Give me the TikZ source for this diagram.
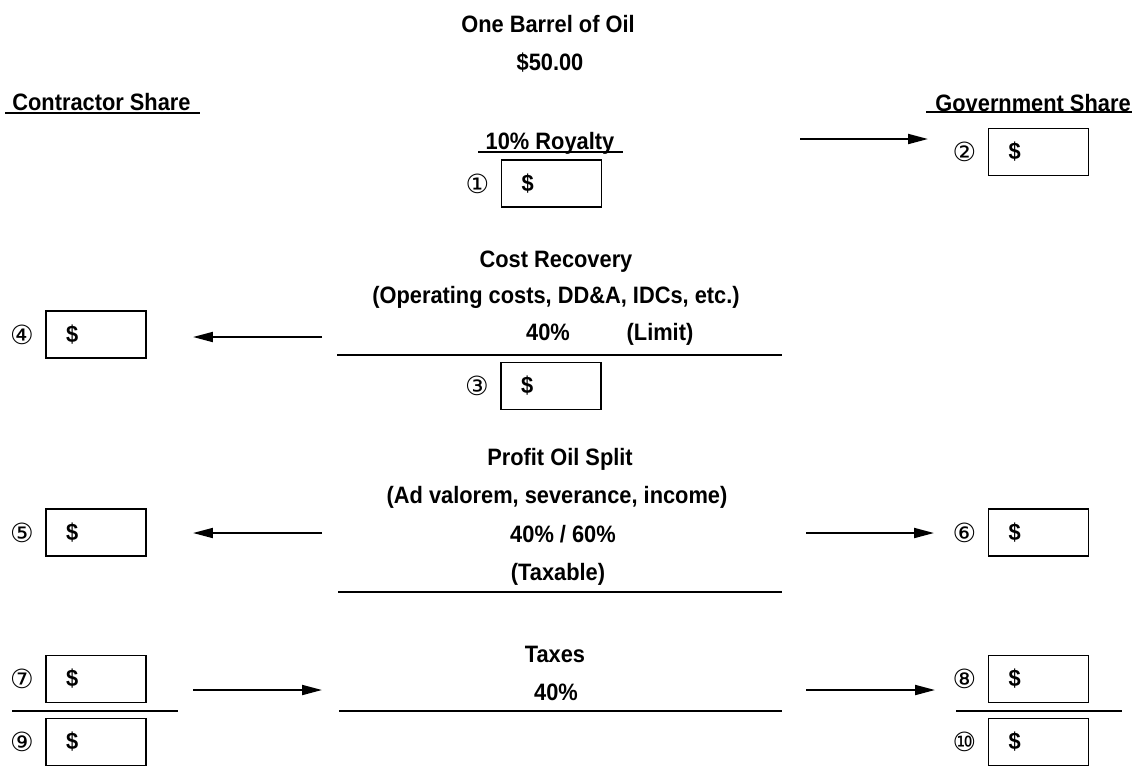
\documentclass[tikz,border=0pt]{standalone}
\usepackage{fontspec}
\setmainfont[FakeStretch=0.92]{Liberation Sans}
\newfontfamily\circfont{DejaVu Sans}
\usetikzlibrary{arrows.meta,positioning}

\begin{document}
\begin{tikzpicture}[x=0.02cm, y=-0.02cm]
    \tikzset{box/.style = {draw, line width=1.1pt, minimum width=2cm, minimum height=0.94cm, text width=1.2cm, inner xsep=0.4cm, align=left, font=\bfseries\fontsize{13.5}{15}\selectfont}}
    \tikzset{num/.style = {inner sep=0pt, font=\circfont\fontsize{15}{17}\selectfont}}
    \tikzset{txt/.style = {anchor=base, inner sep=0pt, font=\bfseries\fontsize{13.5}{15}\selectfont}}
    \tikzset{arr/.style = {line width=1.1pt, -{Triangle[length=0.4cm,width=0.2cm]}}}
    \tikzset{rule/.style = {line width=1.1pt}}

    \useasboundingbox (0,0) rectangle (1138,765);
    \clip (0,0) rectangle (1138,765);

    % headings
    \node[txt] (title) at (548,32) {One Barrel of Oil};
    \node[txt] (price) at (550,70) {\$50.00};
    \node[txt, anchor=base west] (cshare) at (12,110) {Contractor Share};
    \node[txt, anchor=base east] (gshare) at (1131,111) {Government Share};
    \draw[rule] (5,113) -- (200,113);
    \draw[rule] (926,112) -- (1132,112);

    % steps
    \node[txt] (royalty) at (550,149) {10\% Royalty};
    \draw[rule] (478,152) -- (623,152);
    \node[txt] (cost) at (556,267) {Cost Recovery};
    \node[txt] (costs) at (556,303) {(Operating costs, DD\&A, IDCs, etc.)};
    \node[txt] (limit) at (548,340) {40\%};
    \node[txt] (limtxt) at (660,340) {(Limit)};
    \draw[rule] (337,355) -- (782,355);
    \node[txt] (profit) at (560,465) {Profit Oil Split};
    \node[txt] (ptaxes) at (557,503) {(Ad valorem, severance, income)};
    \node[txt] (split) at (563,542) {40\% / 60\%};
    \node[txt] (taxable) at (558,580) {(Taxable)};
    \draw[rule] (338,592) -- (782,592);
    \node[txt] (taxes) at (555,662) {Taxes};
    \node[txt] (rate) at (556,700) {40\%};
    \draw[rule] (339,711) -- (782,711);
    \draw[rule] (12,711) -- (178,711);
    \draw[rule] (956,711) -- (1122,711);

    % boxes
    \node[box] (b1) at (551.5,183.5) {\$};
    \node[box] (b2) at (1038.5,152) {\$};
    \node[box] (b3) at (551,386) {\$};
    \node[box] (b4) at (96,334.5) {\$};
    \node[box] (b5) at (96,532.5) {\$};
    \node[box] (b6) at (1038.5,532.5) {\$};
    \node[box] (b7) at (96,679) {\$};
    \node[box] (b8) at (1038.5,679) {\$};
    \node[box] (b9) at (96,742) {\$};
    \node[box] (b10) at (1038.5,742) {\$};

    % numbers
    \node[num, left=0.22cm of b1] (n1) {①};
    \node[num, left=0.22cm of b2] (n2) {②};
    \node[num, left=0.22cm of b3] (n3) {③};
    \node[num, left=0.22cm of b4] (n4) {④};
    \node[num, left=0.22cm of b5] (n5) {⑤};
    \node[num, left=0.22cm of b6] (n6) {⑥};
    \node[num, left=0.22cm of b7] (n7) {⑦};
    \node[num, left=0.22cm of b8] (n8) {⑧};
    \node[num, left=0.22cm of b9] (n9) {⑨};
    \node[num, left=0.22cm of b10] (n10) {⑩};

    % arrows
    \coordinate (a2s) at (800,139);  \coordinate (a2e) at (928,139);
    \coordinate (a4s) at (322,337);  \coordinate (a4e) at (193,337);
    \coordinate (a5s) at (322,533);  \coordinate (a5e) at (193,533);
    \coordinate (a6s) at (806,533);  \coordinate (a6e) at (934,533);
    \coordinate (a7s) at (193,690);  \coordinate (a7e) at (322,690);
    \coordinate (a8s) at (806,690);  \coordinate (a8e) at (935,690);
    \draw[arr] (a2s) -- (a2e);
    \draw[arr] (a4s) -- (a4e);
    \draw[arr] (a5s) -- (a5e);
    \draw[arr] (a6s) -- (a6e);
    \draw[arr] (a7s) -- (a7e);
    \draw[arr] (a8s) -- (a8e);
\end{tikzpicture}
\end{document}
